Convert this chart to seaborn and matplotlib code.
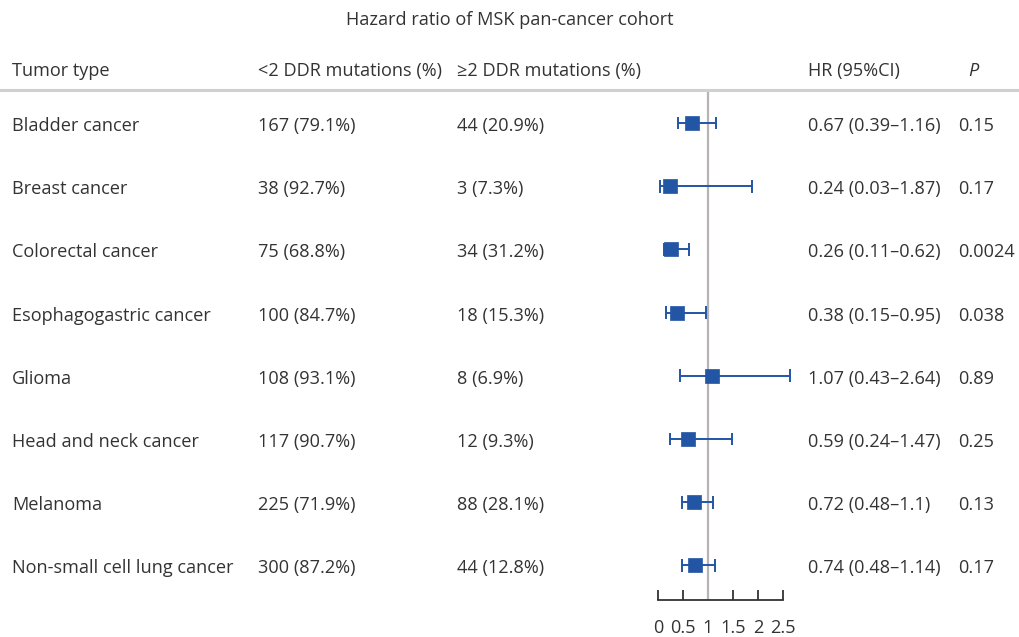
import matplotlib
matplotlib.use("Agg")
import matplotlib.pyplot as plt
import seaborn as sns
import pandas as pd
import numpy as np

sns.set_theme(style="white")
plt.rcParams["font.family"] = ["Open Sans", "DejaVu Sans"]

tumor_types = ["Bladder cancer", "Breast cancer", "Colorectal cancer",
               "Esophagogastric cancer", "Glioma", "Head and neck cancer",
               "Melanoma", "Non-small cell lung cancer"]
low_ddr = ["167 (79.1%)", "38 (92.7%)", "75 (68.8%)", "100 (84.7%)",
           "108 (93.1%)", "117 (90.7%)", "225 (71.9%)", "300 (87.2%)"]
high_ddr = ["44 (20.9%)", "3 (7.3%)", "34 (31.2%)", "18 (15.3%)",
            "8 (6.9%)", "12 (9.3%)", "88 (28.1%)", "44 (12.8%)"]
hr = [0.67, 0.24, 0.26, 0.38, 1.07, 0.59, 0.72, 0.74]
ci_low = [0.39, 0.03, 0.11, 0.15, 0.43, 0.24, 0.48, 0.48]
ci_high = [1.16, 1.87, 0.62, 0.95, 2.64, 1.47, 1.1, 1.14]
hr_labels = ["0.67 (0.39–1.16)", "0.24 (0.03–1.87)", "0.26 (0.11–0.62)",
             "0.38 (0.15–0.95)", "1.07 (0.43–2.64)", "0.59 (0.24–1.47)",
             "0.72 (0.48–1.1)", "0.74 (0.48–1.14)"]
p_values = ["0.15", "0.17", "0.0024", "0.038", "0.89", "0.25", "0.13", "0.17"]
x_ticks = [0, 0.5, 1, 1.5, 2, 2.5]

df = pd.DataFrame({"tumor": tumor_types, "hr": hr, "lo": ci_low,
                   "hi": ci_high, "row": np.arange(len(tumor_types))})

W, H = 1019, 637
fig = plt.figure(figsize=(W / 100, H / 100), dpi=100)

TEXT = "#333333"
BLUE = "#2255a4"
FS = 13.1

# row centres in pixels
row_y0, row_dy = 123, 63.2


def fy(py):
    return 1 - py / H


def fx(px):
    return px / W


# forest axes: x=0 at px 658, 50 px per unit
x_min, x_max = -0.3, 2.9
ax_left = 658 + x_min * 50
ax_width = (x_max - x_min) * 50
top_px, bot_px = 90, 600
ax = fig.add_axes([fx(ax_left), fy(bot_px), ax_width / W, (bot_px - top_px) / H])
ax.set_xlim(x_min, x_max)
ax.set_ylim((bot_px - row_y0) / row_dy, (top_px - row_y0) / row_dy)
ax.patch.set_alpha(0)

ax.axvline(1, color="#b9b3b3", lw=1.6, zorder=1)
ax.hlines(df["row"], df["lo"], df["hi"], color=BLUE, lw=1.4, zorder=2)
ax.vlines(df["lo"], df["row"] - 0.1, df["row"] + 0.1, color=BLUE, lw=1.4, zorder=2)
ax.vlines(df["hi"], df["row"] - 0.1, df["row"] + 0.1, color=BLUE, lw=1.4, zorder=2)
sns.scatterplot(data=df, x="hr", y="row", marker="s", s=105, color=BLUE,
                edgecolor=BLUE, linewidth=0.5, ax=ax, zorder=3, legend=False)

for s in ["top", "right", "left"]:
    ax.spines[s].set_visible(False)
ax.spines["bottom"].set_bounds(0, 2.5)
ax.spines["bottom"].set_color("#333333")
ax.spines["bottom"].set_linewidth(1.3)
ax.set_xticks(x_ticks)
ax.set_xticklabels(["0", "0.5", "1", "1.5", "2", "2.5"])
ax.tick_params(axis="x", direction="in", length=7, width=1.3, color="#333333",
               labelsize=FS, labelcolor=TEXT, pad=14, bottom=True)
ax.set_yticks([])
ax.set_xlabel("")
ax.set_ylabel("")

# title and header
fig.text(0.5, fy(18), "Hazard ratio of MSK pan-cancer cohort", ha="center",
         va="center_baseline", fontsize=FS, color=TEXT)
hy = fy(69)
fig.text(fx(12), hy, "Tumor type", va="center_baseline", fontsize=FS, color=TEXT)
fig.text(fx(258), hy, "<2 DDR mutations (%)", va="center_baseline", fontsize=FS, color=TEXT)
fig.text(fx(457), hy, "≥2 DDR mutations (%)", va="center_baseline", fontsize=FS, color=TEXT)
fig.text(fx(808), hy, "HR (95%CI)", va="center_baseline", fontsize=FS, color=TEXT)
fig.text(fx(968), hy, "P", va="center_baseline", fontsize=FS, color=TEXT, style="italic")

fig.add_artist(plt.Line2D([0, 1], [fy(90), fy(90)], color="#d0d0d0", lw=2.2))

for i in range(len(tumor_types)):
    y = fy(row_y0 + 1 + i * row_dy)
    fig.text(fx(12), y, tumor_types[i], va="center_baseline", fontsize=FS, color=TEXT)
    fig.text(fx(258), y, low_ddr[i], va="center_baseline", fontsize=FS, color=TEXT)
    fig.text(fx(457), y, high_ddr[i], va="center_baseline", fontsize=FS, color=TEXT)
    fig.text(fx(808), y, hr_labels[i], va="center_baseline", fontsize=FS, color=TEXT)
    fig.text(fx(958), y, p_values[i], va="center_baseline", fontsize=FS, color=TEXT)

fig.savefig("out.png", dpi=100)
